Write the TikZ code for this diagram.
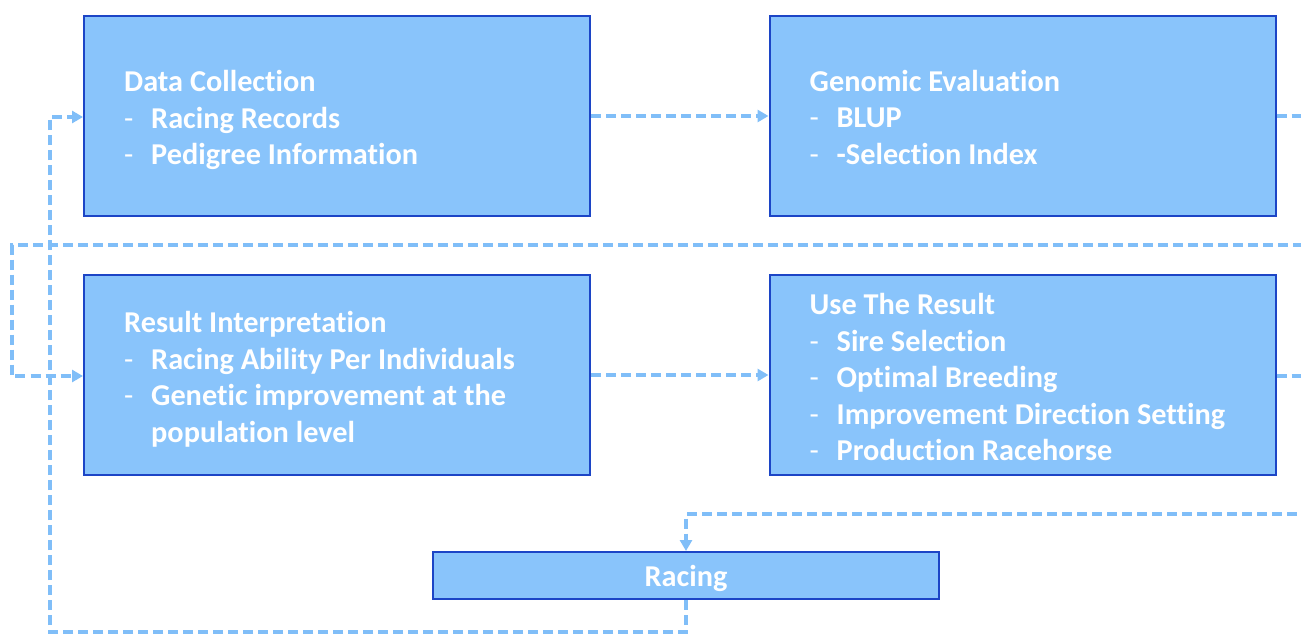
\documentclass[tikz,border=0pt]{standalone}
\usepackage{fontspec}
\setmainfont{Carlito}[Ligatures=NoCommon]
\usetikzlibrary{arrows.meta}
\definecolor{boxfill}{HTML}{89C4FB}
\definecolor{boxline}{HTML}{1C45C6}
\definecolor{conncol}{HTML}{80BEF8}
\newcommand{\itm}[1]{\makebox[27pt][l]{\mdseries -}#1}
\newcommand{\cont}[1]{\hspace*{27pt}#1}
\tikzset{
  box/.style={draw=boxline, line width=2pt, fill=boxfill, minimum width=506pt, minimum height=200pt, inner sep=0pt},
  smallbox/.style={draw=boxline, line width=2pt, fill=boxfill, minimum width=506pt, minimum height=47pt, inner sep=0pt},
  txt/.style={anchor=west, inner sep=0pt, text=white, align=left, font=\fontsize{30.3}{36.5}\selectfont\bfseries},
  conn/.style={draw=conncol, line width=3.2pt, dash pattern=on 10pt off 5pt, -{Triangle[length=11pt,width=12pt]}}
}
\begin{document}
\begin{tikzpicture}[x=1pt,y=-1pt]
\clip (0,0) rectangle (1301,634);
\fill[white] (0,0) rectangle (1301,634);
\node[box] (dc) at (337,116) {};
\node[box] (ge) at (1022.5,116) {};
\node[box] (ri) at (337,375) {};
\node[box] (ur) at (1022.5,375) {};
\node[smallbox] (ra) at (686,575.5) {};

\node[txt] (dct) at ([xshift=41pt,yshift=-4pt]dc.west) {Data Collection\\\itm{Racing Records}\\\itm{Pedigree Information}};
\node[txt] (get) at ([xshift=41pt,yshift=-1pt]ge.west) {Genomic Evaluation\\\itm{BLUP}\\\itm{-Selection Index}};
\node[txt] (rit) at ([xshift=41pt,yshift=-4pt]ri.west) {Result Interpretation\\\itm{Racing Ability Per Individuals}\\\itm{Genetic improvement at the}\\\cont{population level}};
\node[txt] (urt) at ([xshift=41pt,yshift=-2pt]ur.west) {Use The Result\\\itm{Sire Selection}\\\itm{Optimal Breeding}\\\itm{Improvement Direction Setting}\\\itm{Production Racehorse}};
\node[txt, anchor=center] (rat) at ([yshift=-3pt]ra.center) {Racing};

\coordinate (a1) at (1330,116);
\coordinate (a2) at (1330,245);
\coordinate (a3) at (12,245);
\coordinate (a4) at (12,376);
\coordinate (b1) at (1330,376);
\coordinate (b2) at (1330,514);
\coordinate (b3) at (686,514);
\coordinate (c1) at (686,632);
\coordinate (c2) at (50,632);
\coordinate (c3) at (50,117);

\draw[conn] (dc.east) -- (ge.west);
\draw[conn] (ri.east) -- (ur.west);
\draw[conn] (ge.east) -- (a1) -- (a2) -- (a3) -- (a4) -- (ri.west |- a4);
\draw[conn] (ur.east |- b1) -- (b1) -- (b2) -- (b3) -- (ra.north);
\draw[conn] (ra.south) -- (c1) -- (c2) -- (c3) -- (dc.west |- c3);
\end{tikzpicture}
\end{document}
